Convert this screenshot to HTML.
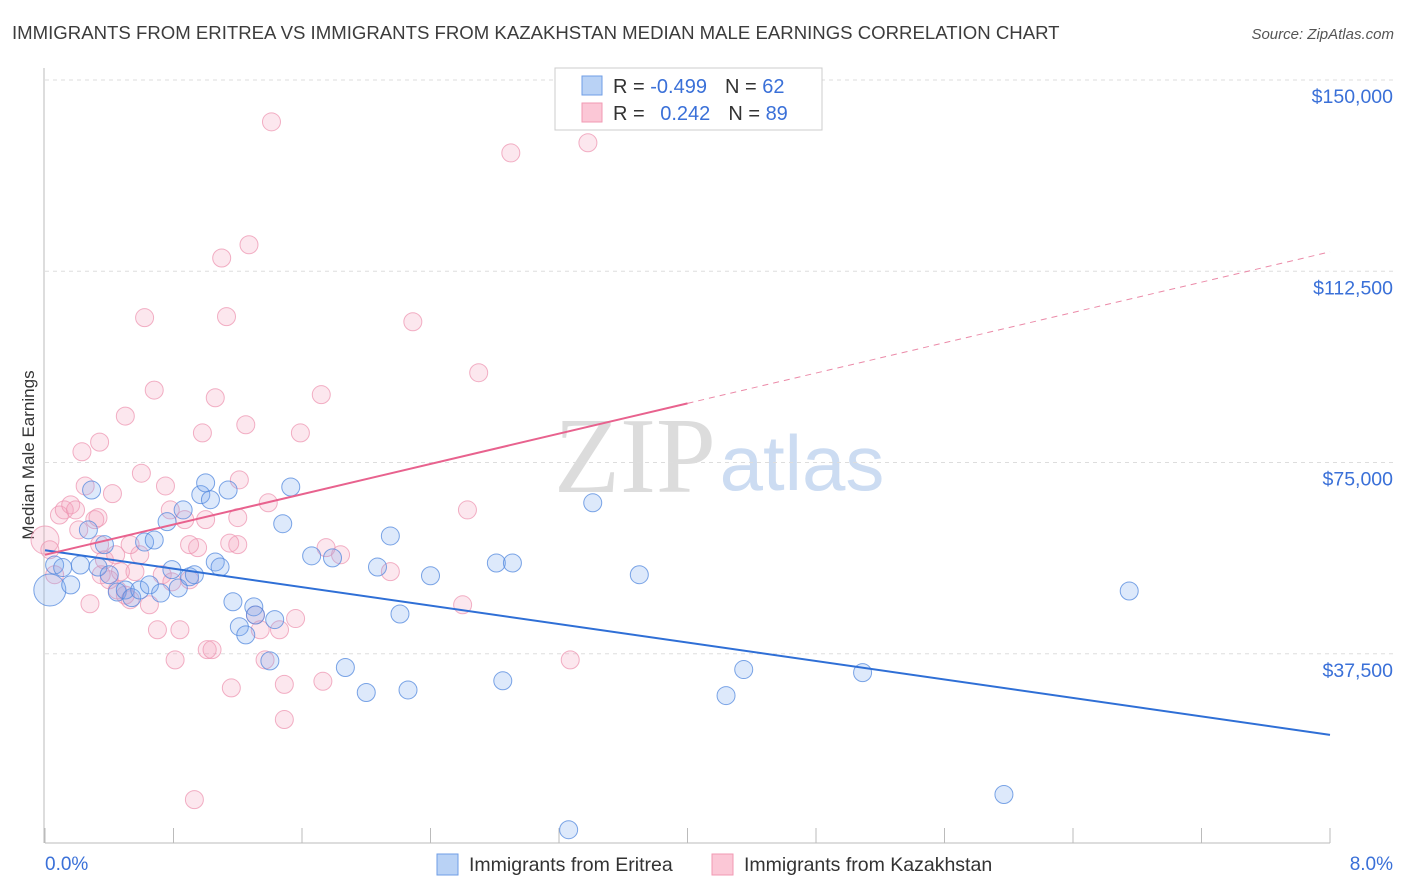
<!DOCTYPE html>
<html><head><meta charset="utf-8"><style>
body{margin:0;background:#fff;font-family:"Liberation Sans",sans-serif;}
svg{display:block}
</style></head><body>
<svg id="chart" width="1406" height="892">
<text x="12" y="39" font-size="18.6" fill="#3c3c3c">IMMIGRANTS FROM ERITREA VS IMMIGRANTS FROM KAZAKHSTAN MEDIAN MALE EARNINGS CORRELATION CHART</text>
<text x="1394" y="39" font-size="15" fill="#555" text-anchor="end" font-style="italic">Source: ZipAtlas.com</text>
<text x="635" y="492" font-size="108" fill="#dcdcdc" font-family="Liberation Serif,serif" text-anchor="middle">ZIP</text>
<text x="802" y="490" font-size="78" fill="#ccdcf2" text-anchor="middle">atlas</text>
<text transform="translate(34,455) rotate(-90)" font-size="17" fill="#333" text-anchor="middle">Median Male Earnings</text>
<g id="grid"></g><g id="pts"></g><g id="lines"></g>
<g>
<rect x="555" y="68" width="267" height="62" fill="#fff" stroke="#ccc"/>
<rect x="582" y="76" width="20" height="19" fill="#b9d2f5" stroke="#6f9ee6"/>
<rect x="582" y="103" width="20" height="19" fill="#fbc7d6" stroke="#f19ab3"/>
<text x="613" y="93" font-size="20" fill="#333">R = <tspan fill="#3a70d8">-0.499</tspan><tspan dx="18">N = </tspan><tspan fill="#3a70d8">62</tspan></text>
<text x="613" y="120" font-size="20" fill="#333">R = <tspan fill="#3a70d8" dx="10">0.242</tspan><tspan dx="18">N = </tspan><tspan fill="#3a70d8">89</tspan></text>
</g>
<text x="45" y="870" font-size="19" fill="#3a70d8">0.0%</text>
<text x="1393" y="870" font-size="19" fill="#3a70d8" text-anchor="end">8.0%</text>
<g><rect x="437" y="854" width="21" height="21" fill="#b9d2f5" stroke="#6f9ee6"/><text x="469" y="871" font-size="19.5" fill="#333">Immigrants from Eritrea</text></g>
<g><rect x="712" y="854" width="21" height="21" fill="#fbc7d6" stroke="#f19ab3"/><text x="744" y="871" font-size="19.5" fill="#333">Immigrants from Kazakhstan</text></g>
</svg>
<script>
const yTicks=[150000,112500,75000,37500];
const yTickLabels=["$150,000","$112,500","$75,000","$37,500"];
const xTicks=[0,0.8,1.6,2.4,3.2,4.0,4.8,5.6,6.4,7.2,8.0];
const blueX=[.03,.06,.11,.16,.22,.27,.29,.33,.37,.40,.45,.50,.54,.59,.62,.68,.65,.72,.76,.79,.83,.86,.90,.93,.97,1.00,1.03,1.06,1.09,1.14,1.17,1.21,1.25,1.30,1.31,1.40,1.43,1.48,1.53,1.66,1.79,1.87,2.00,2.07,2.15,2.21,2.26,2.40,2.81,2.85,2.91,3.26,3.41,3.70,4.24,4.35,5.09,5.97,6.75];
const blueY=[50.0,54.9,54.4,51.0,54.9,61.8,69.6,54.5,58.9,53.0,49.6,50.0,48.5,50.0,59.4,59.8,51.0,49.4,63.4,54.0,50.4,65.7,52.6,53.0,68.7,71.0,67.7,55.5,54.5,69.6,47.7,42.8,41.2,46.7,45.1,36.1,44.2,63.0,70.2,56.7,56.3,34.8,29.9,54.5,60.6,45.3,30.4,52.8,55.3,32.2,55.3,3.0,67.1,53.0,29.3,34.4,33.8,9.9,49.8];
const pinkX=[0,.03,.06,.09,.12,.16,.19,.21,.23,.34,.31,.42,.25,.34,.37,.40,.44,.47,.50,.53,.56,.59,.62,.68,.65,.70,.75,.78,.81,.84,.87,.90,.93,.95,.98,1.00,1.01,1.04,1.06,1.10,1.13,1.16,1.20,1.21,1.25,1.27,1.31,1.34,1.37,1.39,1.41,1.46,1.49,1.49,1.56,1.59,1.72,1.73,1.75,1.84,2.15,2.29,2.60,2.63,2.70,2.90,3.27,3.38,.50,.28,.33,.53,.60,.35,.73,.79,.90,1.15,.45,1.20];
const pinkY=[59.8,57.9,53.0,64.7,65.7,66.7,65.7,61.8,77.1,79.0,63.8,68.9,70.4,58.9,55.9,52.0,56.9,53.6,49.0,48.1,53.6,56.9,103.4,89.2,47.1,42.2,70.4,65.7,36.3,42.2,63.8,52.0,8.9,58.3,80.8,63.8,38.3,38.3,87.7,115.1,103.6,30.8,58.9,71.6,82.4,117.7,45.1,42.2,36.3,67.1,141.8,42.2,31.5,24.6,44.4,80.8,88.3,32.1,58.3,56.9,53.6,102.6,47.1,65.7,92.6,135.7,36.3,137.7,84.1,47.3,64.2,58.9,72.9,53.0,53.0,51.6,58.9,59.2,50.0,64.2];
const blueTrend=[57.8,21.6];
const pinkTrend=[56.9,116.3];
const pinkSolidEnd=[4.0];
const NS="http://www.w3.org/2000/svg";
const X=p=>45+p/8*1285;
const Y=v=>845-v/150000*765;
function mk(tag,a,parent){const e=document.createElementNS(NS,tag);for(const k in a)e.setAttribute(k,a[k]);parent.appendChild(e);return e;}
const grid=document.getElementById('grid');
yTicks.forEach((t,i)=>{
 const l=mk('line',{x1:45,x2:1393,y1:Y(t),y2:Y(t),stroke:'#ddd','stroke-dasharray':'4,4'},grid);
 
 
 const tx=mk('text',{x:1393,y:Y(t)+23,'font-size':19.5,fill:'#3a70d8','text-anchor':'end'},grid);
 tx.textContent=yTickLabels[i];
 
 
});
const ax=mk('line',{x1:45,x2:1330,y1:843,y2:843,stroke:'#bbb'},grid);


const ay=mk('line',{x1:44,x2:44,y1:68,y2:843,stroke:'#bbb'},grid);


xTicks.forEach(t=>{const l=mk('line',{x1:X(t),x2:X(t),y1:828,y2:843,stroke:'#bbb'},grid);
 
 });
const pts=document.getElementById('pts');
pinkX.forEach((x,i)=>{const c=mk('circle',{cx:X(x),cy:Y(pinkY[i]*1000),r:i==0?14:9,fill:'rgba(244,160,188,0.25)',stroke:'rgba(238,150,178,0.75)','stroke-width':1},pts);
 
 });
blueX.forEach((x,i)=>{const c=mk('circle',{cx:X(x),cy:Y(blueY[i]*1000),r:i==0?16:9,fill:'rgba(120,168,238,0.25)',stroke:'rgba(80,135,222,0.75)','stroke-width':1},pts);
 
 });
const lines=document.getElementById('lines');
const bl=mk('line',{x1:X(0),y1:Y(blueTrend[0]*1000),x2:X(8),y2:Y(blueTrend[1]*1000),stroke:'#2f6fd6','stroke-width':2},lines);


const pv=x=>pinkTrend[0]+(pinkTrend[1]-pinkTrend[0])*x/8;
const pl=mk('line',{x1:X(0),y1:Y(pv(0)*1000),x2:X(pinkSolidEnd[0]),y2:Y(pv(pinkSolidEnd[0])*1000),stroke:'#e8628e','stroke-width':2},lines);


const pd=mk('line',{x1:X(pinkSolidEnd[0]),y1:Y(pv(pinkSolidEnd[0])*1000),x2:X(8),y2:Y(pv(8)*1000),stroke:'#eb8aa8','stroke-width':1,'stroke-dasharray':'6,5'},lines);


</script>
</body></html>
